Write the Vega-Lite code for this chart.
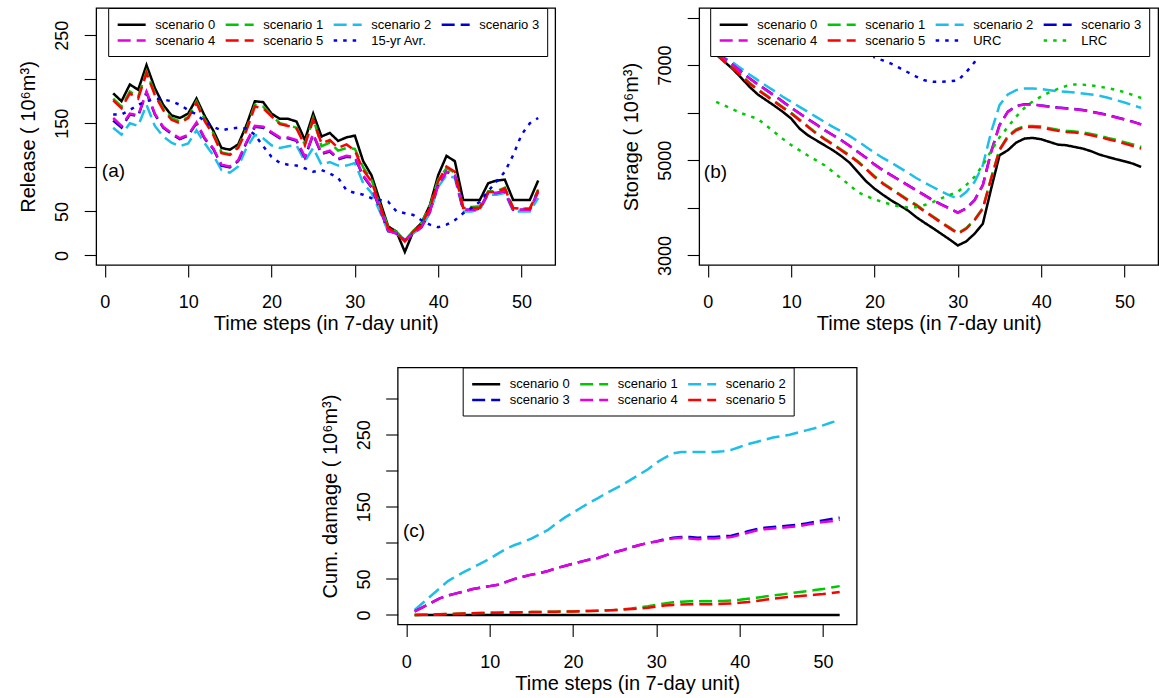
{
"$schema": "https://vega.github.io/schema/vega-lite/v6.json",
"background": "white",
"padding": {"left": 18, "top": 6, "right": 0, "bottom": 0},
"datasets": {
"A": [
{"t":1,"a0":184,"a1":178,"a2":145,"a3":153,"a4":156,"a5":176,"ax":160},
{"t":2,"a0":175,"a1":169,"a2":137,"a3":145,"a4":147,"a5":167,"ax":160},
{"t":3,"a0":194,"a1":186,"a2":150,"a3":160,"a4":161,"a5":184,"ax":165},
{"t":4,"a0":188,"a1":180,"a2":147,"a3":158,"a4":159,"a5":178,"ax":171},
{"t":5,"a0":216,"a1":209,"a2":171,"a3":185,"a4":186,"a5":207,"ax":175},
{"t":6,"a0":190,"a1":184,"a2":147,"a3":160,"a4":161,"a5":182,"ax":178},
{"t":7,"a0":171,"a1":167,"a2":135,"a3":145,"a4":146,"a5":165,"ax":177},
{"t":8,"a0":159,"a1":156,"a2":128,"a3":138,"a4":139,"a5":154,"ax":175},
{"t":9,"a0":156,"a1":152,"a2":124,"a3":132,"a4":133,"a5":150,"ax":171},
{"t":10,"a0":161,"a1":157,"a2":127,"a3":136,"a4":137,"a5":156,"ax":165},
{"t":11,"a0":178,"a1":175,"a2":142,"a3":150,"a4":151,"a5":173,"ax":160},
{"t":12,"a0":158,"a1":154,"a2":127,"a3":132,"a4":133,"a5":152,"ax":152},
{"t":13,"a0":142,"a1":139,"a2":114,"a3":121,"a4":122,"a5":137,"ax":146},
{"t":14,"a0":122,"a1":117,"a2":97,"a3":102,"a4":103,"a5":116,"ax":142},
{"t":15,"a0":120,"a1":115,"a2":94,"a3":100,"a4":101,"a5":114,"ax":144},
{"t":16,"a0":126,"a1":123,"a2":101,"a3":107,"a4":108,"a5":122,"ax":145},
{"t":17,"a0":148,"a1":144,"a2":122,"a3":128,"a4":129,"a5":142,"ax":144},
{"t":18,"a0":175,"a1":171,"a2":137,"a3":146,"a4":147,"a5":169,"ax":137},
{"t":19,"a0":174,"a1":169,"a2":133,"a3":145,"a4":146,"a5":167,"ax":124},
{"t":20,"a0":161,"a1":159,"a2":125,"a3":139,"a4":140,"a5":158,"ax":112},
{"t":21,"a0":155,"a1":150,"a2":122,"a3":133,"a4":134,"a5":149,"ax":105},
{"t":22,"a0":155,"a1":148,"a2":124,"a3":133,"a4":134,"a5":147,"ax":103},
{"t":23,"a0":152,"a1":145,"a2":125,"a3":130,"a4":131,"a5":144,"ax":102},
{"t":24,"a0":131,"a1":126,"a2":107,"a3":111,"a4":112,"a5":125,"ax":99},
{"t":25,"a0":161,"a1":156,"a2":122,"a3":137,"a4":138,"a5":154,"ax":95},
{"t":26,"a0":135,"a1":124,"a2":103,"a3":115,"a4":116,"a5":127,"ax":97},
{"t":27,"a0":139,"a1":128,"a2":106,"a3":118,"a4":119,"a5":131,"ax":93},
{"t":28,"a0":130,"a1":119,"a2":102,"a3":109,"a4":110,"a5":122,"ax":88},
{"t":29,"a0":134,"a1":122,"a2":102,"a3":112,"a4":113,"a5":126,"ax":74},
{"t":30,"a0":136,"a1":121,"a2":105,"a3":111,"a4":112,"a5":119,"ax":71},
{"t":31,"a0":107,"a1":100,"a2":82,"a3":90,"a4":91,"a5":97,"ax":69},
{"t":32,"a0":91,"a1":86,"a2":71,"a3":77,"a4":78,"a5":84,"ax":65},
{"t":33,"a0":62,"a1":58,"a2":50,"a3":53,"a4":54,"a5":57,"ax":63},
{"t":34,"a0":33,"a1":32,"a2":27,"a3":28,"a4":28,"a5":31,"ax":61},
{"t":35,"a0":27,"a1":27,"a2":25,"a3":25,"a4":25,"a5":26,"ax":50},
{"t":36,"a0":4,"a1":17,"a2":18,"a3":17,"a4":17,"a5":16,"ax":48},
{"t":37,"a0":27,"a1":28,"a2":25,"a3":25,"a4":25,"a5":27,"ax":46},
{"t":38,"a0":37,"a1":37,"a2":32,"a3":32,"a4":32,"a5":35,"ax":40},
{"t":39,"a0":57,"a1":56,"a2":48,"a3":50,"a4":50,"a5":54,"ax":35},
{"t":40,"a0":91,"a1":86,"a2":78,"a3":80,"a4":80,"a5":84,"ax":32},
{"t":41,"a0":113,"a1":99,"a2":91,"a3":95,"a4":95,"a5":101,"ax":35},
{"t":42,"a0":107,"a1":94,"a2":88,"a3":91,"a4":91,"a5":95,"ax":40},
{"t":43,"a0":63,"a1":55,"a2":50,"a3":52,"a4":52,"a5":54,"ax":48},
{"t":44,"a0":63,"a1":55,"a2":50,"a3":52,"a4":52,"a5":54,"ax":54},
{"t":45,"a0":63,"a1":56,"a2":52,"a3":53,"a4":53,"a5":54,"ax":61},
{"t":46,"a0":82,"a1":73,"a2":69,"a3":71,"a4":71,"a5":72,"ax":73},
{"t":47,"a0":85,"a1":73,"a2":69,"a3":71,"a4":71,"a5":72,"ax":84},
{"t":48,"a0":86,"a1":77,"a2":71,"a3":73,"a4":73,"a5":76,"ax":95},
{"t":49,"a0":63,"a1":54,"a2":50,"a3":52,"a4":52,"a5":54,"ax":114},
{"t":50,"a0":63,"a1":53,"a2":50,"a3":52,"a4":52,"a5":53,"ax":137},
{"t":51,"a0":63,"a1":53,"a2":50,"a3":52,"a4":52,"a5":53,"ax":150},
{"t":52,"a0":85,"a1":75,"a2":65,"a3":73,"a4":72,"a5":74,"ax":156}
],
"B": [
{"t":1,"b0":7225,"b1":7225,"b2":7246,"b3":7250,"b4":7246,"b5":7225,"bu":8400,"bl":6228},
{"t":2,"b0":7070,"b1":7080,"b2":7155,"b3":7132,"b4":7127,"b5":7070,"bu":8400,"bl":6150},
{"t":3,"b0":6916,"b1":6945,"b2":7056,"b3":7005,"b4":7000,"b5":6930,"bu":8400,"bl":6070},
{"t":4,"b0":6733,"b1":6791,"b2":6930,"b3":6865,"b4":6860,"b5":6776,"bu":8400,"bl":5990},
{"t":5,"b0":6544,"b1":6629,"b2":6804,"b3":6725,"b4":6720,"b5":6614,"bu":8400,"bl":5930},
{"t":6,"b0":6383,"b1":6489,"b2":6684,"b3":6598,"b4":6593,"b5":6474,"bu":8400,"bl":5870},
{"t":7,"b0":6263,"b1":6370,"b2":6565,"b3":6479,"b4":6474,"b5":6355,"bu":8400,"bl":5730},
{"t":8,"b0":6144,"b1":6243,"b2":6453,"b3":6360,"b4":6355,"b5":6228,"bu":8400,"bl":5590},
{"t":9,"b0":6018,"b1":6117,"b2":6334,"b3":6233,"b4":6228,"b5":6102,"bu":8400,"bl":5450},
{"t":10,"b0":5877,"b1":5998,"b2":6228,"b3":6107,"b4":6102,"b5":5983,"bu":8400,"bl":5320},
{"t":11,"b0":5667,"b1":5857,"b2":6123,"b3":5988,"b4":5983,"b5":5842,"bu":8400,"bl":5210},
{"t":12,"b0":5526,"b1":5717,"b2":6018,"b3":5868,"b4":5863,"b5":5702,"bu":8400,"bl":5100},
{"t":13,"b0":5421,"b1":5577,"b2":5912,"b3":5756,"b4":5751,"b5":5562,"bu":8400,"bl":5000},
{"t":14,"b0":5316,"b1":5457,"b2":5807,"b3":5637,"b4":5632,"b5":5442,"bu":8400,"bl":4895},
{"t":15,"b0":5211,"b1":5345,"b2":5702,"b3":5531,"b4":5526,"b5":5330,"bu":8400,"bl":4760},
{"t":16,"b0":5091,"b1":5226,"b2":5611,"b3":5426,"b4":5421,"b5":5211,"bu":8400,"bl":4620},
{"t":17,"b0":4951,"b1":5106,"b2":5512,"b3":5307,"b4":5302,"b5":5091,"bu":8200,"bl":4480},
{"t":18,"b0":4754,"b1":4980,"b2":5400,"b3":5181,"b4":5176,"b5":4965,"bu":7850,"bl":4330},
{"t":19,"b0":4558,"b1":4826,"b2":5281,"b3":5054,"b4":5049,"b5":4811,"bu":7500,"bl":4250},
{"t":20,"b0":4404,"b1":4664,"b2":5161,"b3":4914,"b4":4909,"b5":4649,"bu":7160,"bl":4180},
{"t":21,"b0":4277,"b1":4524,"b2":5049,"b3":4795,"b4":4790,"b5":4509,"bu":7100,"bl":4120},
{"t":22,"b0":4158,"b1":4405,"b2":4951,"b3":4689,"b4":4684,"b5":4390,"bu":7030,"bl":4070},
{"t":23,"b0":4053,"b1":4292,"b2":4846,"b3":4584,"b4":4579,"b5":4277,"bu":6940,"bl":4030},
{"t":24,"b0":3947,"b1":4173,"b2":4740,"b3":4479,"b4":4474,"b5":4158,"bu":6850,"bl":4010},
{"t":25,"b0":3807,"b1":4068,"b2":4628,"b3":4373,"b4":4368,"b5":4053,"bu":6760,"bl":4015},
{"t":26,"b0":3688,"b1":3941,"b2":4530,"b3":4268,"b4":4263,"b5":3926,"bu":6680,"bl":4060},
{"t":27,"b0":3575,"b1":3822,"b2":4439,"b3":4163,"b4":4158,"b5":3807,"bu":6650,"bl":4120},
{"t":28,"b0":3456,"b1":3703,"b2":4347,"b3":4072,"b4":4067,"b5":3688,"bu":6650,"bl":4200},
{"t":29,"b0":3337,"b1":3590,"b2":4263,"b3":3988,"b4":3983,"b5":3575,"bu":6660,"bl":4270},
{"t":30,"b0":3211,"b1":3471,"b2":4193,"b3":3903,"b4":3898,"b5":3456,"bu":6680,"bl":4340},
{"t":31,"b0":3295,"b1":3576,"b2":4333,"b3":3988,"b4":3983,"b5":3561,"bu":6850,"bl":4480},
{"t":32,"b0":3456,"b1":3752,"b2":4544,"b3":4163,"b4":4158,"b5":3737,"bu":7060,"bl":4650},
{"t":33,"b0":3667,"b1":3998,"b2":4895,"b3":4479,"b4":4474,"b5":3983,"bu":7400,"bl":4900},
{"t":34,"b0":4404,"b1":4634,"b2":5597,"b3":5181,"b4":5176,"b5":4614,"bu":7800,"bl":5200},
{"t":35,"b0":5105,"b1":5231,"b2":6158,"b3":5742,"b4":5737,"b5":5211,"bu":8200,"bl":5480},
{"t":36,"b0":5211,"b1":5511,"b2":6383,"b3":6023,"b4":6018,"b5":5491,"bu":8400,"bl":5700},
{"t":37,"b0":5372,"b1":5652,"b2":6474,"b3":6142,"b4":6137,"b5":5632,"bu":8400,"bl":5920},
{"t":38,"b0":5456,"b1":5722,"b2":6509,"b3":6177,"b4":6172,"b5":5702,"bu":8400,"bl":6100},
{"t":39,"b0":5470,"b1":5722,"b2":6509,"b3":6177,"b4":6172,"b5":5702,"bu":8400,"bl":6240},
{"t":40,"b0":5442,"b1":5708,"b2":6495,"b3":6149,"b4":6144,"b5":5688,"bu":8400,"bl":6340},
{"t":41,"b0":5386,"b1":5673,"b2":6474,"b3":6128,"b4":6123,"b5":5653,"bu":8400,"bl":6430},
{"t":42,"b0":5330,"b1":5640,"b2":6453,"b3":6107,"b4":6102,"b5":5618,"bu":8400,"bl":6500},
{"t":43,"b0":5316,"b1":5620,"b2":6439,"b3":6093,"b4":6088,"b5":5597,"bu":8400,"bl":6560},
{"t":44,"b0":5281,"b1":5606,"b2":6425,"b3":6079,"b4":6074,"b5":5583,"bu":8400,"bl":6595},
{"t":45,"b0":5246,"b1":5586,"b2":6404,"b3":6058,"b4":6053,"b5":5562,"bu":8400,"bl":6590},
{"t":46,"b0":5190,"b1":5552,"b2":6383,"b3":6023,"b4":6018,"b5":5526,"bu":8400,"bl":6575},
{"t":47,"b0":5119,"b1":5518,"b2":6355,"b3":5988,"b4":5983,"b5":5491,"bu":8400,"bl":6550},
{"t":48,"b0":5070,"b1":5470,"b2":6313,"b3":5953,"b4":5948,"b5":5442,"bu":8400,"bl":6515},
{"t":49,"b0":5021,"b1":5430,"b2":6263,"b3":5903,"b4":5898,"b5":5400,"bu":8400,"bl":6480},
{"t":50,"b0":4979,"b1":5382,"b2":6214,"b3":5861,"b4":5856,"b5":5351,"bu":8400,"bl":6430},
{"t":51,"b0":4930,"b1":5335,"b2":6158,"b3":5812,"b4":5807,"b5":5302,"bu":8400,"bl":6370},
{"t":52,"b0":4860,"b1":5281,"b2":6102,"b3":5756,"b4":5751,"b5":5246,"bu":8400,"bl":6310}
],
"C": [
{"t":1,"c0":0,"c1":0,"c2":7,"c3":5,"c4":5,"c5":0},
{"t":2,"c0":0,"c1":0.3,"c2":17,"c3":11,"c4":11,"c5":0.3},
{"t":3,"c0":0,"c1":0.6,"c2":27,"c3":17,"c4":17,"c5":0.6},
{"t":4,"c0":0,"c1":1,"c2":37,"c3":23,"c4":23,"c5":1},
{"t":5,"c0":0,"c1":1.3,"c2":47,"c3":27,"c4":27,"c5":1.3},
{"t":6,"c0":0,"c1":1.6,"c2":54,"c3":30,"c4":30,"c5":1.6},
{"t":7,"c0":0,"c1":2,"c2":60,"c3":33,"c4":33,"c5":2},
{"t":8,"c0":0,"c1":2.3,"c2":66,"c3":36,"c4":36,"c5":2.3},
{"t":9,"c0":0,"c1":2.6,"c2":72,"c3":38,"c4":38,"c5":2.6},
{"t":10,"c0":0,"c1":3,"c2":78,"c3":40,"c4":40,"c5":3},
{"t":11,"c0":0,"c1":3.2,"c2":85,"c3":42,"c4":42,"c5":3.2},
{"t":12,"c0":0,"c1":3.4,"c2":92,"c3":46,"c4":46,"c5":3.4},
{"t":13,"c0":0,"c1":3.6,"c2":97,"c3":50,"c4":50,"c5":3.6},
{"t":14,"c0":0,"c1":3.8,"c2":101,"c3":53,"c4":53,"c5":3.8},
{"t":15,"c0":0,"c1":4,"c2":106,"c3":56,"c4":56,"c5":4},
{"t":16,"c0":0,"c1":4.2,"c2":112,"c3":58,"c4":58,"c5":4.2},
{"t":17,"c0":0,"c1":4.4,"c2":118,"c3":61,"c4":61,"c5":4.4},
{"t":18,"c0":0,"c1":4.6,"c2":127,"c3":65,"c4":65,"c5":4.6},
{"t":19,"c0":0,"c1":4.8,"c2":135,"c3":68,"c4":68,"c5":4.8},
{"t":20,"c0":0,"c1":5,"c2":142,"c3":71,"c4":71,"c5":5},
{"t":21,"c0":0,"c1":5.3,"c2":149,"c3":74,"c4":74,"c5":5.3},
{"t":22,"c0":0,"c1":5.6,"c2":156,"c3":77,"c4":77,"c5":5.6},
{"t":23,"c0":0,"c1":6,"c2":162,"c3":79,"c4":79,"c5":6},
{"t":24,"c0":0,"c1":6.5,"c2":169,"c3":83,"c4":83,"c5":6.3},
{"t":25,"c0":0,"c1":7,"c2":175,"c3":87,"c4":87,"c5":6.8},
{"t":26,"c0":0,"c1":8,"c2":181,"c3":90,"c4":90,"c5":7.5},
{"t":27,"c0":0,"c1":9,"c2":188,"c3":94,"c4":94,"c5":8.3},
{"t":28,"c0":0,"c1":10.5,"c2":195,"c3":97,"c4":97,"c5":9},
{"t":29,"c0":0,"c1":12,"c2":202,"c3":100,"c4":100,"c5":10},
{"t":30,"c0":0,"c1":14,"c2":211,"c3":102,"c4":102,"c5":11.5},
{"t":31,"c0":0,"c1":16,"c2":218,"c3":105,"c4":104,"c5":13},
{"t":32,"c0":0,"c1":17.5,"c2":224,"c3":107,"c4":106,"c5":14},
{"t":33,"c0":0,"c1":18.5,"c2":226,"c3":108,"c4":107,"c5":14.5},
{"t":34,"c0":0,"c1":19,"c2":226,"c3":108,"c4":106,"c5":15},
{"t":35,"c0":0,"c1":19,"c2":226,"c3":107,"c4":105,"c5":15},
{"t":36,"c0":0,"c1":19,"c2":226,"c3":108,"c4":106,"c5":15},
{"t":37,"c0":0,"c1":19.2,"c2":226,"c3":108,"c4":106,"c5":15},
{"t":38,"c0":0,"c1":19.5,"c2":227,"c3":109,"c4":107,"c5":15.5},
{"t":39,"c0":0,"c1":20,"c2":229,"c3":110,"c4":108,"c5":16},
{"t":40,"c0":0,"c1":21,"c2":233,"c3":113,"c4":111,"c5":17},
{"t":41,"c0":0,"c1":22.5,"c2":237,"c3":116,"c4":114,"c5":18},
{"t":42,"c0":0,"c1":24,"c2":240,"c3":119,"c4":117,"c5":19.5},
{"t":43,"c0":0,"c1":25.5,"c2":243,"c3":121,"c4":119,"c5":21},
{"t":44,"c0":0,"c1":27,"c2":246,"c3":122,"c4":120,"c5":22.5},
{"t":45,"c0":0,"c1":28.5,"c2":248,"c3":123,"c4":121,"c5":24},
{"t":46,"c0":0,"c1":30,"c2":250,"c3":124,"c4":122,"c5":25},
{"t":47,"c0":0,"c1":31.5,"c2":253,"c3":125,"c4":123,"c5":26},
{"t":48,"c0":0,"c1":33,"c2":256,"c3":127,"c4":125,"c5":27},
{"t":49,"c0":0,"c1":34.5,"c2":259,"c3":129,"c4":127,"c5":28},
{"t":50,"c0":0,"c1":36,"c2":263,"c3":131,"c4":129,"c5":29},
{"t":51,"c0":0,"c1":38,"c2":267,"c3":133,"c4":130,"c5":30.5},
{"t":52,"c0":0,"c1":40,"c2":270,"c3":135,"c4":132,"c5":32}
]
},
"vconcat": [
{
"hconcat": [
{
"width": 459, "height": 257,
"layer": [
{
"data": {"name": "A"},
"transform": [{"fold": ["a0","a1","a2","a3","a4","a5","ax"], "as": ["sa","va"]}],
"mark": {"type": "line", "strokeWidth": 2.5, "clip": true},
"encoding": {
"x": {"field": "t", "type": "quantitative", "title": "Time steps (in 7-day unit)", "scale": {"domain": [-1.04, 54.04], "nice": false, "zero": false}, "axis": {"values": [0,10,20,30,40,50]}},
"y": {"field": "va", "type": "quantitative", "title": "Release ( 10⁶m³)", "scale": {"domain": [-10.8, 280.8], "nice": false, "zero": false}, "axis": {"values": [0,50,100,150,200,250], "labelExpr": "datum.value == 100 || datum.value == 200 ? '' : datum.label"}},
"color": {"field": "sa", "type": "nominal", "title": null,
"scale": {"domain": ["a0","a1","a2","a3","a4","a5","ax"], "range": ["#000000","#00C800","#1CBFEA","#0000CD","#E800E0","#FF0000","#0000EE"]},
"legend": {"columns": 4, "direction": "horizontal", "legendX": 12, "legendY": 0, "labelExpr": "datum.label == 'ax' ? '15-yr Avr.' : 'scenario ' + substring(datum.label, 1)"}},
"strokeDash": {"field": "sa", "type": "nominal", "title": null,
"scale": {"domain": ["a0","a1","a2","a3","a4","a5","ax"], "range": [[1,0],[13,6],[13,6],[13,6],[13,6],[13,6],[3.5,6]]},
"legend": {"columns": 4, "direction": "horizontal", "legendX": 12, "legendY": 0, "labelExpr": "datum.label == 'ax' ? '15-yr Avr.' : 'scenario ' + substring(datum.label, 1)"}}
}
},
{
"data": {"values": [{"t": -0.36, "va": 95.5, "lab": "(a)"}]},
"mark": {"type": "text", "align": "left", "baseline": "middle", "fontSize": 19, "font": "Liberation Sans", "color": "black"},
"encoding": {
"x": {"field": "t", "type": "quantitative", "title": "Time steps (in 7-day unit)"},
"y": {"field": "va", "type": "quantitative", "title": "Release ( 10⁶m³)"},
"text": {"field": "lab"}
}
}
]
},
{
"width": 459, "height": 257,
"layer": [
{
"data": {"name": "B"},
"transform": [{"fold": ["b0","b1","b2","b3","b4","b5","bu","bl"], "as": ["sb","vb"]}],
"mark": {"type": "line", "strokeWidth": 2.5, "clip": true},
"encoding": {
"x": {"field": "t", "type": "quantitative", "title": "Time steps (in 7-day unit)", "scale": {"domain": [-1.04, 54.04], "nice": false, "zero": false}, "axis": {"values": [0,10,20,30,40,50]}},
"y": {"field": "vb", "type": "quantitative", "title": "Storage ( 10⁶m³)", "scale": {"domain": [2800, 8200], "nice": false, "zero": false}, "axis": {"values": [3000,4000,5000,6000,7000,8000], "format": "d", "labelExpr": "datum.value == 4000 || datum.value == 6000 || datum.value == 8000 ? '' : datum.label"}},
"color": {"field": "sb", "type": "nominal", "title": null,
"scale": {"domain": ["b0","b1","b2","b3","b4","b5","bu","bl"], "range": ["#000000","#00C800","#1CBFEA","#0000CD","#E800E0","#FF0000","#0000EE","#00CC00"]},
"legend": {"columns": 4, "direction": "horizontal", "legendX": 11, "legendY": 0, "labelExpr": "datum.label == 'bu' ? 'URC' : datum.label == 'bl' ? 'LRC' : 'scenario ' + substring(datum.label, 1)"}},
"strokeDash": {"field": "sb", "type": "nominal", "title": null,
"scale": {"domain": ["b0","b1","b2","b3","b4","b5","bu","bl"], "range": [[1,0],[13,6],[13,6],[13,6],[13,6],[13,6],[3.5,6],[3.5,6]]},
"legend": {"columns": 4, "direction": "horizontal", "legendX": 11, "legendY": 0, "labelExpr": "datum.label == 'bu' ? 'URC' : datum.label == 'bl' ? 'LRC' : 'scenario ' + substring(datum.label, 1)"}}
}
},
{
"data": {"values": [{"t": -0.48, "vb": 4756, "lab": "(b)"}]},
"mark": {"type": "text", "align": "left", "baseline": "middle", "fontSize": 19, "font": "Liberation Sans", "color": "black"},
"encoding": {
"x": {"field": "t", "type": "quantitative", "title": "Time steps (in 7-day unit)"},
"y": {"field": "vb", "type": "quantitative", "title": "Storage ( 10⁶m³)"},
"text": {"field": "lab"}
}
}
]
}
],
"spacing": 64,
"resolve": {"scale": {"x": "independent", "y": "independent", "color": "independent", "strokeDash": "independent"}, "legend": {"color": "independent", "strokeDash": "independent"}}
},
{
"width": 459, "height": 257,
"layer": [
{
"data": {"name": "C"},
"transform": [{"fold": ["c0","c1","c2","c3","c4","c5"], "as": ["sc","vc"]}],
"mark": {"type": "line", "strokeWidth": 2.5, "clip": true},
"encoding": {
"x": {"field": "t", "type": "quantitative", "title": "Time steps (in 7-day unit)", "scale": {"domain": [-1.04, 54.04], "nice": false, "zero": false}, "axis": {"values": [0,10,20,30,40,50]}},
"y": {"field": "vc", "type": "quantitative", "title": "Cum. damage ( 10⁶m³)", "scale": {"domain": [-13.2, 343.2], "nice": false, "zero": false}, "axis": {"values": [0,50,100,150,200,250,300], "labelExpr": "datum.value == 100 || datum.value == 200 || datum.value == 300 ? '' : datum.label"}},
"color": {"field": "sc", "type": "nominal", "title": null,
"scale": {"domain": ["c0","c1","c2","c3","c4","c5"], "range": ["#000000","#00C800","#1CBFEA","#0000CD","#E800E0","#FF0000"]},
"legend": {"columns": 3, "direction": "horizontal", "legendX": 65, "legendY": 0, "labelExpr": "'scenario ' + substring(datum.label, 1)"}},
"strokeDash": {"field": "sc", "type": "nominal", "title": null,
"scale": {"domain": ["c0","c1","c2","c3","c4","c5"], "range": [[1,0],[13,6],[13,6],[13,6],[13,6],[13,6]]},
"legend": {"columns": 3, "direction": "horizontal", "legendX": 65, "legendY": 0, "labelExpr": "'scenario ' + substring(datum.label, 1)"}}
}
},
{
"data": {"values": [{"t": -0.4, "vc": 116, "lab": "(c)"}]},
"mark": {"type": "text", "align": "left", "baseline": "middle", "fontSize": 19, "font": "Liberation Sans", "color": "black"},
"encoding": {
"x": {"field": "t", "type": "quantitative", "title": "Time steps (in 7-day unit)"},
"y": {"field": "vc", "type": "quantitative", "title": "Cum. damage ( 10⁶m³)"},
"text": {"field": "lab"}
}
}
]
}
],
"spacing": 30.5,
"center": true,
"resolve": {"scale": {"x": "independent", "y": "independent", "color": "independent", "strokeDash": "independent"}, "legend": {"color": "independent", "strokeDash": "independent"}},
"config": {
"font": "Liberation Sans",
"view": {"stroke": "black", "strokeWidth": 1.3},
"axis": {"grid": false, "domain": false, "ticks": true, "tickSize": 12, "tickColor": "black", "tickWidth": 1.1, "labelFontSize": 18, "labelColor": "black", "labelFont": "Liberation Sans", "labelFlush": false, "labelOverlap": false, "titleFontSize": 20, "titleFontWeight": "normal", "titleColor": "black", "titleFont": "Liberation Sans"},
"axisX": {"labelPadding": 16.5, "titlePadding": 2},
"axisY": {"labelAngle": -90, "labelAlign": "center", "labelBaseline": "alphabetic", "labelPadding": 16.5, "titlePadding": 15},
"legend": {"orient": "none", "labelFontSize": 13, "labelFont": "Liberation Sans", "labelColor": "black", "symbolType": "M-2,0H2", "symbolSize": 196, "symbolOffset": 7, "symbolStrokeWidth": 2.5, "labelOffset": 15, "columnPadding": 5, "rowPadding": 0, "padding": 8, "strokeColor": "black", "fillColor": "white"}
}
}
